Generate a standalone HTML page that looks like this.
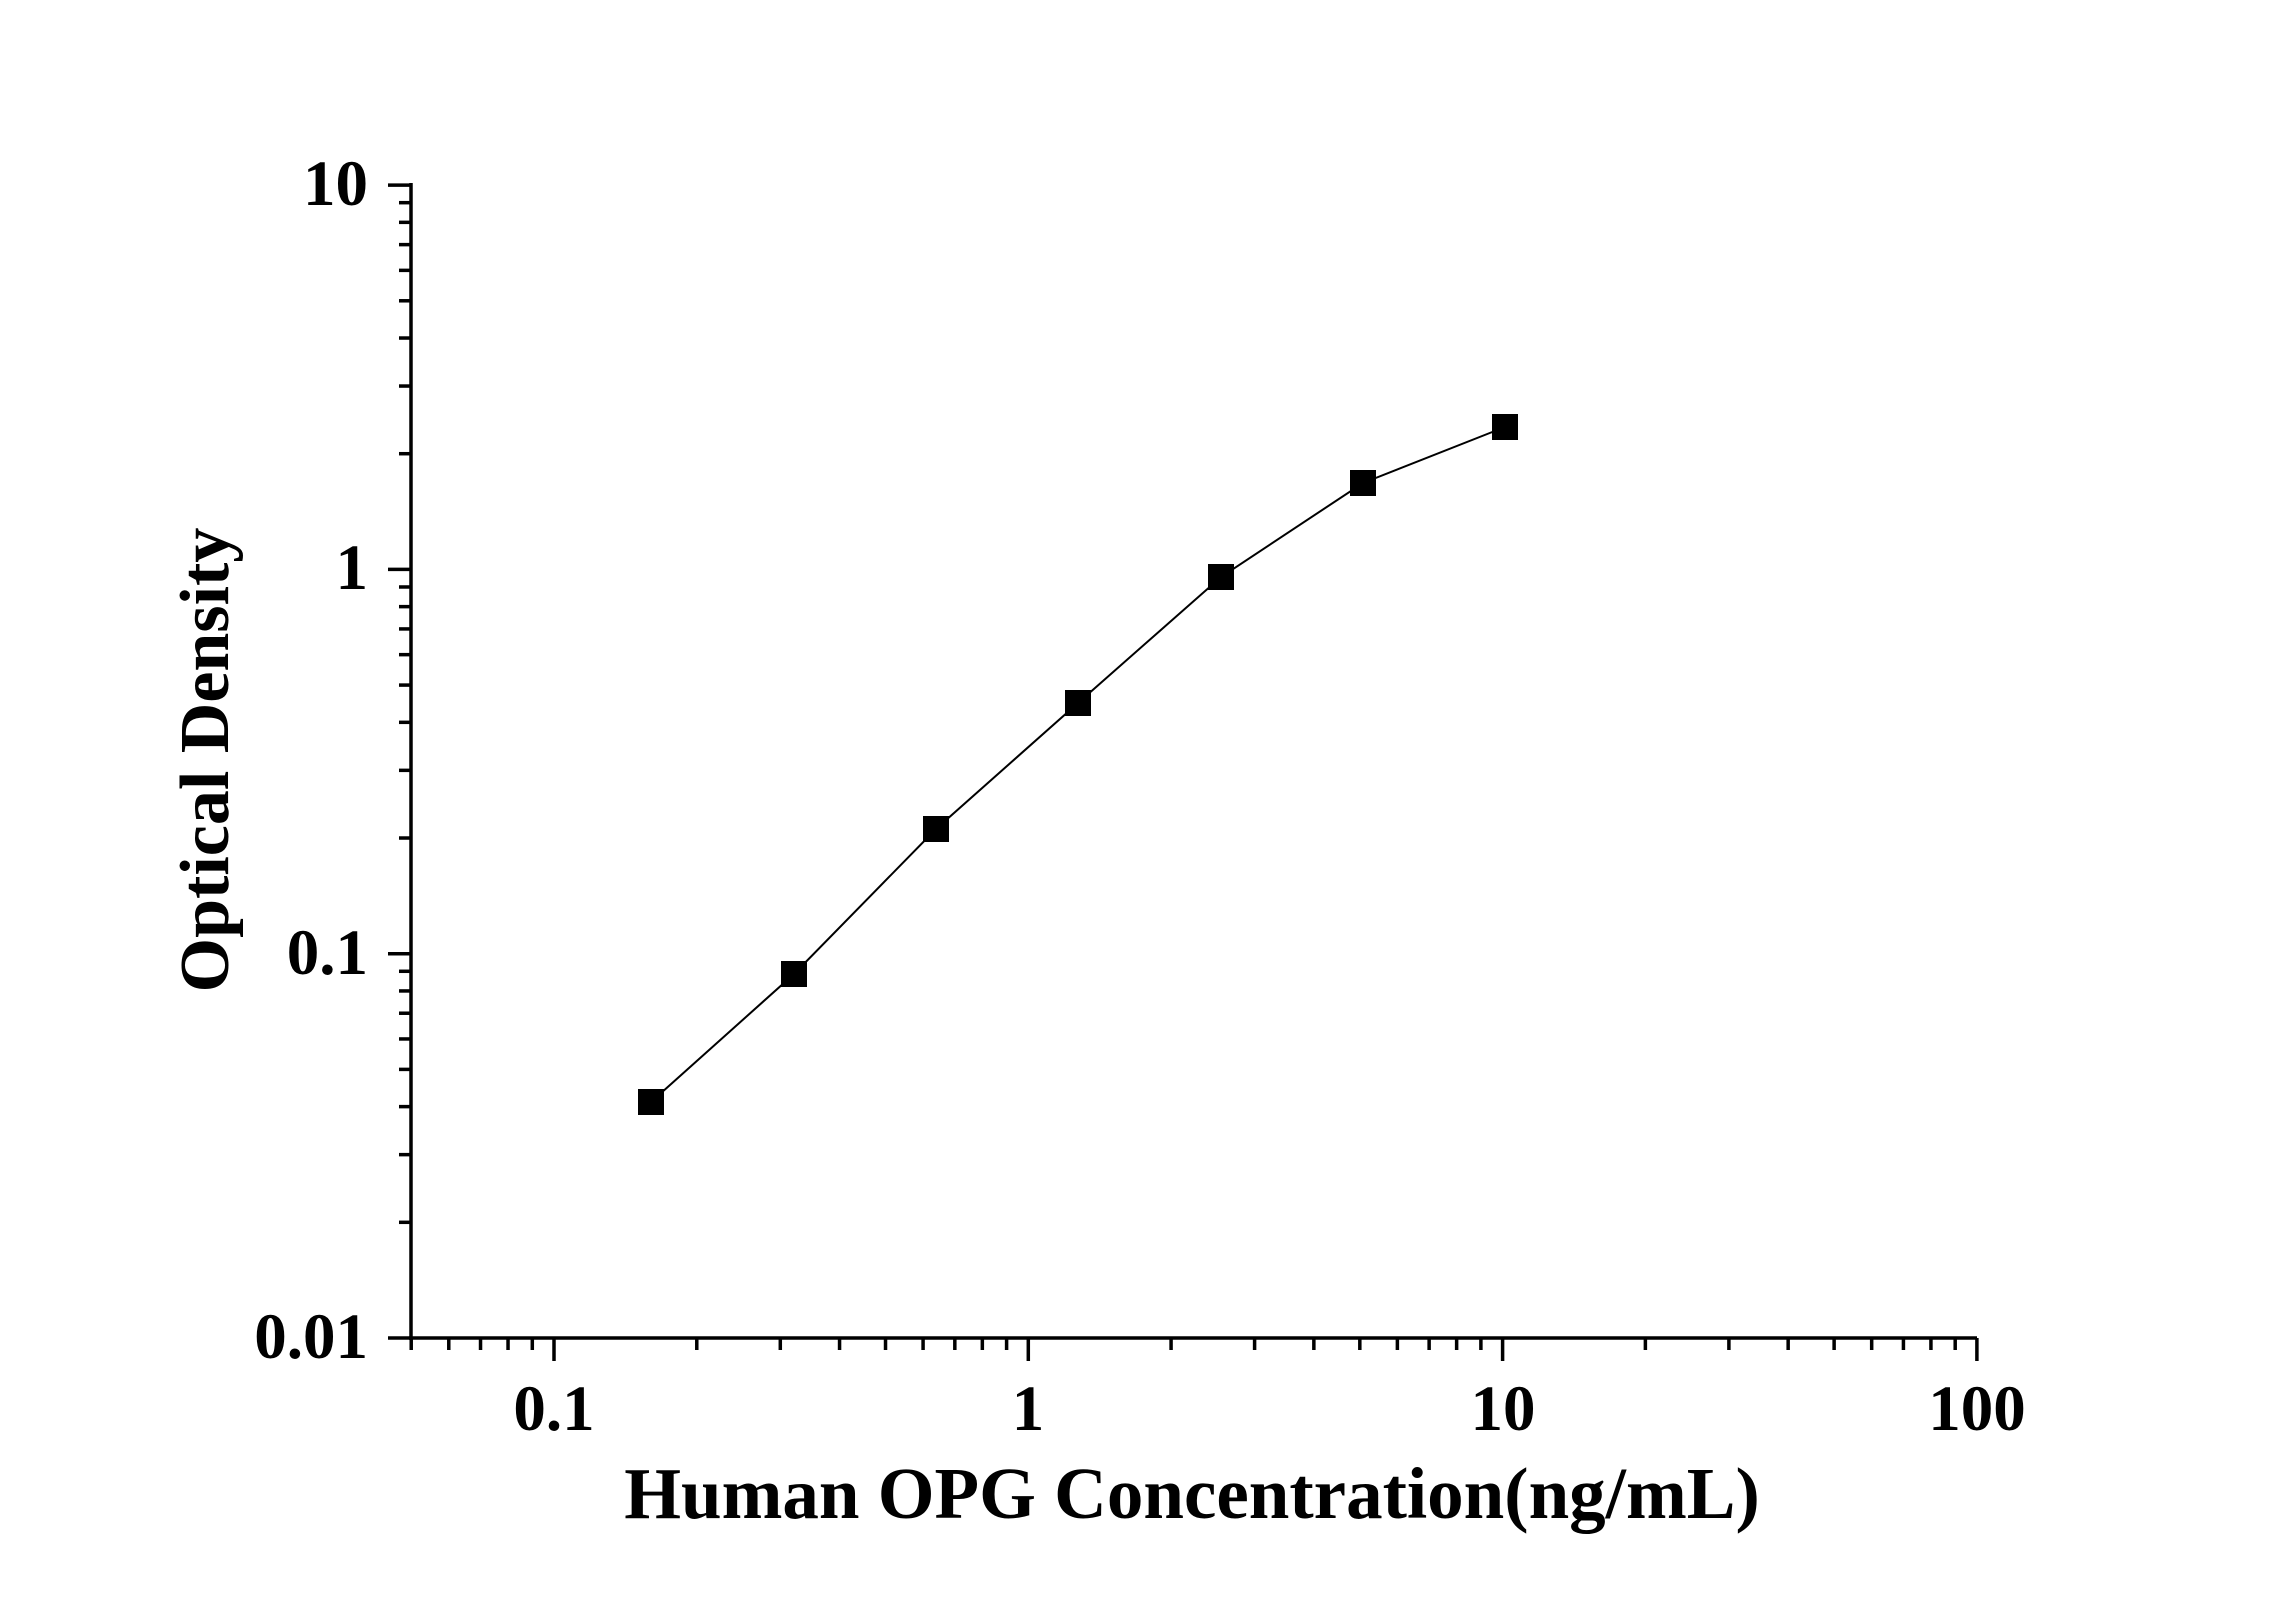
<!DOCTYPE html>
<html><head><meta charset="utf-8"><style>
html,body{margin:0;padding:0;background:#fff;}
svg{display:block;}
text{font-family:"Liberation Serif",serif;font-weight:bold;fill:#000;}
</style></head><body>
<svg id="s" width="2296" height="1604" viewBox="0 0 2296 1604" xmlns="http://www.w3.org/2000/svg">
<rect width="2296" height="1604" fill="#fff"/>
<g id="ax" stroke="#000" stroke-width="3.5" fill="none">
<line x1="411" y1="183" x2="411" y2="1340"/>
<line x1="409" y1="1338" x2="1977" y2="1338"/>
</g>
<g font-size="65">
<text x="368" y="205" text-anchor="end">10</text>
<text x="368" y="589" text-anchor="end">1</text>
<text x="368" y="974" text-anchor="end">0.1</text>
<text x="368" y="1358" text-anchor="end">0.01</text>
<text x="554" y="1430" text-anchor="middle">0.1</text>
<text x="1028" y="1430" text-anchor="middle">1</text>
<text x="1503" y="1430" text-anchor="middle">10</text>
<text x="1977" y="1430" text-anchor="middle">100</text>
</g>
<text x="1192" y="1518" font-size="73" text-anchor="middle">Human OPG Concentration(ng/mL)</text>
<text transform="translate(228,760) rotate(-90)" font-size="70" text-anchor="middle">Optical Density</text>
<polyline fill="none" stroke="#000" stroke-width="2" points="651,1102 794,974 936,829 1078,703 1221,577 1363,483 1505,427"/>
<g fill="#000">
<rect x="638" y="1089" width="26" height="26"/>
<rect x="781" y="961" width="26" height="26"/>
<rect x="923" y="816" width="26" height="26"/>
<rect x="1065" y="690" width="26" height="26"/>
<rect x="1208" y="564" width="26" height="26"/>
<rect x="1350" y="470" width="26" height="26"/>
<rect x="1492" y="414" width="26" height="26"/>
</g>
</svg>
<script>
var ax=document.getElementById('ax');
function L(x1,y1,x2,y2){var l=document.createElementNS('http://www.w3.org/2000/svg','line');l.setAttribute('x1',x1);l.setAttribute('y1',y1);l.setAttribute('x2',x2);l.setAttribute('y2',y2);ax.appendChild(l);}
var dx=474.3,dy=384.3;
function X(v){return 554+dx*(Math.log10(v)+1);}
function Y(v){return 1338-dy*(Math.log10(v)+2);}
[0.1,1,10,100].forEach(function(v){L(X(v),1338,X(v),1361);});
[0.01,0.1,1,10].forEach(function(v){L(388,Y(v),411,Y(v));});
[0.01,0.1,1,10].forEach(function(d){for(var k=2;k<=9;k++){var v=d*k;if(v>=0.05&&v<=100)L(X(v),1338,X(v),1350);}});
[0.01,0.1,1].forEach(function(d){for(var k=2;k<=9;k++){L(399,Y(d*k),411,Y(d*k));}});
</script>
</body></html>
